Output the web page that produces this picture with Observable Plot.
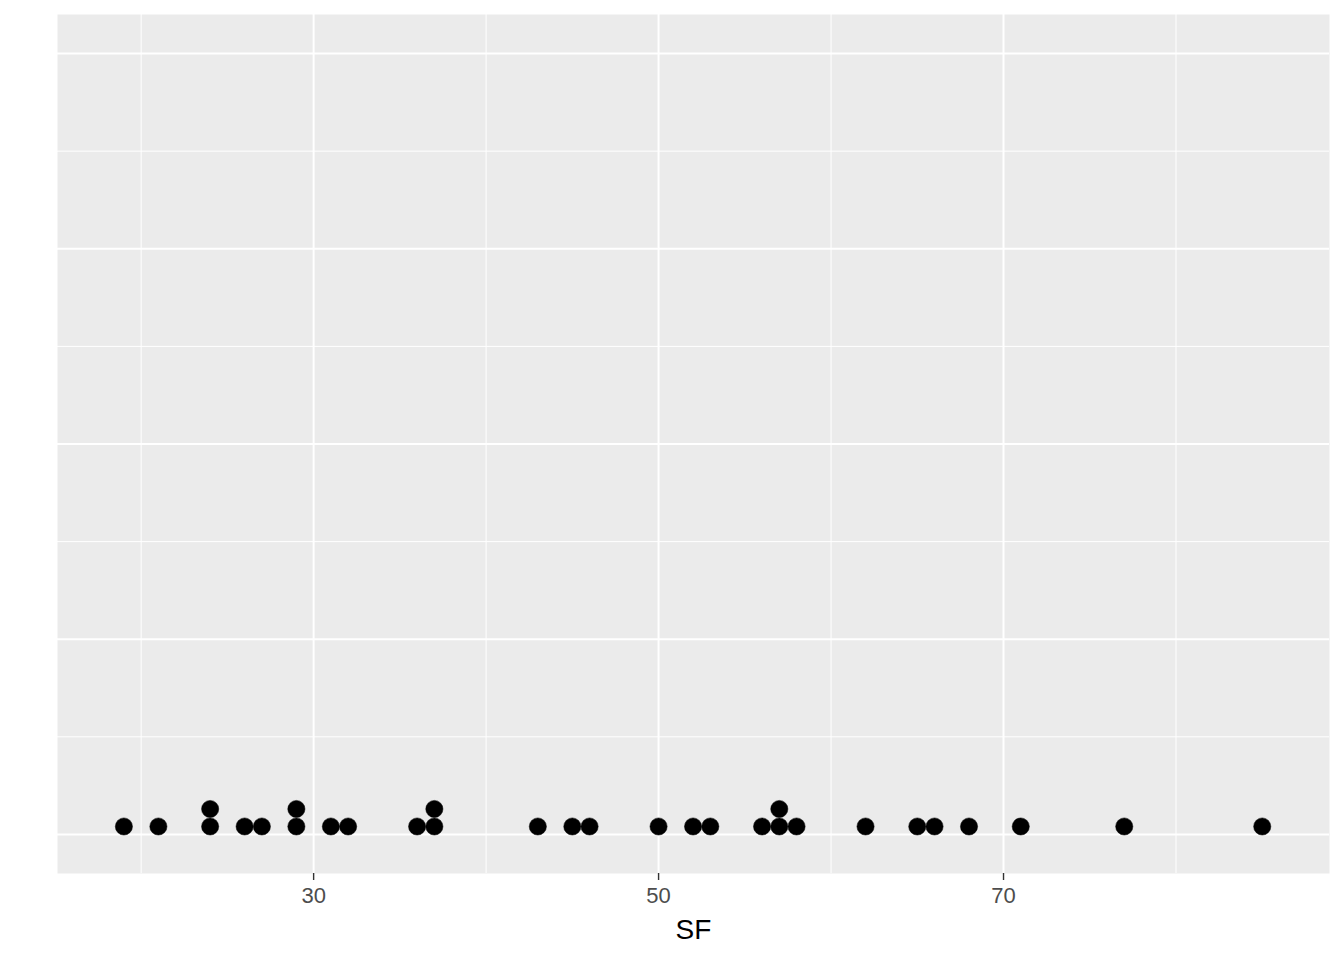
<!DOCTYPE html>
<html>
<head>
<meta charset="utf-8">
<script src="https://cdn.jsdelivr.net/npm/d3@7"></script>
<script src="https://cdn.jsdelivr.net/npm/@observablehq/plot@0.6"></script>
<style>
  html, body { margin: 0; padding: 0; background: #fff; }
  #chart svg { display: block; }
</style>
</head>
<body>
<div id="chart"></div>
<script>
// Data (variable SF)
const sfValues = [19, 21, 24, 24, 26, 27, 29, 29, 31, 32, 36, 37, 37, 43, 45, 46,
                  50, 52, 53, 56, 57, 57, 58, 62, 65, 66, 68, 71, 77, 85];
const xTicks = [30, 50, 70];
const xMinor = [20, 40, 60, 80];
const yMajor = [0, 0.25, 0.5, 0.75, 1];
const yMinor = [0.125, 0.375, 0.625, 0.875];

// stack dots with identical values (dotplot stacking)
const stackBase = 0.0102, stackStep = 0.0224;
const seen = new Map();
const dots = sfValues.map(v => {
  const k = seen.get(v) || 0;
  seen.set(v, k + 1);
  return {SF: v, y: stackBase + k * stackStep};
});

const chart = Plot.plot({
  width: 1344,
  height: 960,
  marginLeft: 57,
  marginRight: 15,
  marginTop: 14,
  marginBottom: 87,
  style: {fontFamily: "'Liberation Sans', Arial, sans-serif", background: "#fff"},
  x: {domain: [15.15, 88.9]},
  y: {domain: [-0.05, 1.05], axis: null},
  marks: [
    Plot.frame({fill: "#EBEBEB", stroke: null}),
    Plot.ruleY(yMinor, {stroke: "#fff", strokeWidth: 1}),
    Plot.ruleX(xMinor, {stroke: "#fff", strokeWidth: 1}),
    Plot.ruleY(yMajor, {stroke: "#fff", strokeWidth: 2}),
    Plot.ruleX(xTicks, {stroke: "#fff", strokeWidth: 2}),
    Plot.dot(dots, {x: "SF", y: "y", r: 8.6, fill: "#000", stroke: "#000", strokeWidth: 0.5}),
    Plot.axisX(xTicks, {
      tickSize: 7,
      tickPadding: 7,
      stroke: "#333",
      strokeWidth: 1.4,
      fill: "#4D4D4D",
      fontSize: 22,
      label: "SF",
      labelAnchor: "center",
      labelArrow: "none",
      labelOffset: 65
    })
  ]
});
// make axis label black and larger
chart.querySelectorAll("g[aria-label='x-axis label'] text").forEach(t => {
  t.setAttribute("fill", "#000");
  t.style.fontSize = "28px";
});
document.getElementById("chart").appendChild(chart);
</script>
</body>
</html>
